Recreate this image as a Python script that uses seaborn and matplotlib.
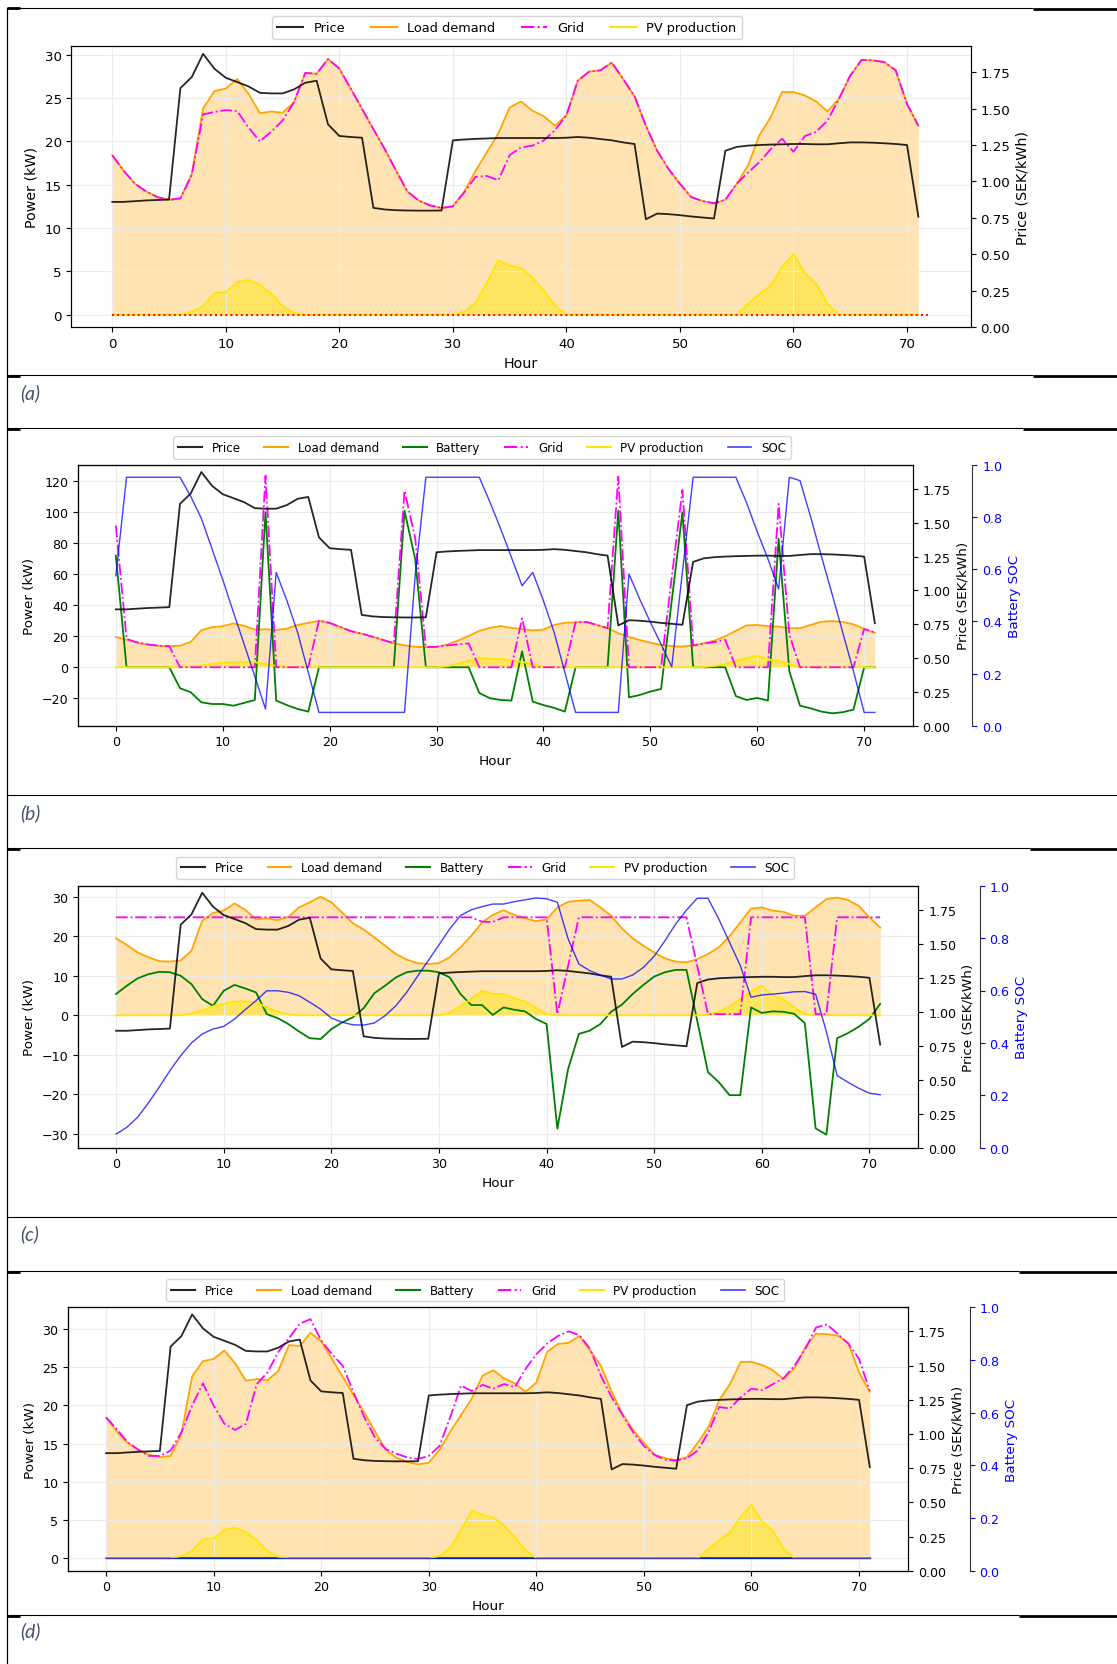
import matplotlib
matplotlib.use("Agg")
import matplotlib.pyplot as plt
from matplotlib.lines import Line2D
import seaborn as sns

# ---------------------------------------------------------------- data
hours = list(range(72))

price = [0.86, 0.86, 0.865, 0.87, 0.873, 0.876, 1.64, 1.716, 1.875, 1.773,
         1.711, 1.682, 1.652, 1.608, 1.604, 1.604, 1.631, 1.677, 1.691, 1.392,
         1.312, 1.305, 1.300, 0.819, 0.808, 0.803, 0.801, 0.800, 0.800, 0.801,
         1.282, 1.288, 1.292, 1.295, 1.298, 1.298, 1.298, 1.298, 1.298, 1.298,
         1.300, 1.305, 1.300, 1.291, 1.282, 1.268, 1.257, 0.741, 0.780, 0.776,
         0.769, 0.760, 0.753, 0.746, 1.211, 1.237, 1.246, 1.250, 1.253, 1.255,
         1.257, 1.257, 1.255, 1.255, 1.262, 1.268, 1.268, 1.266, 1.262, 1.257,
         1.250, 0.758]

# load / PV used in cases (a) and (d)
load_ad = [18.4, 16.6, 15.1, 14.2, 13.55, 13.25, 13.4, 16.25, 23.8, 25.8,
           26.1, 27.2, 25.5, 23.25, 23.45, 23.3, 24.5, 27.9, 27.8, 29.5,
           28.4, 26.1, 23.75, 21.4, 19.1, 16.6, 14.2, 13.15, 12.6, 12.3,
           12.5, 14.2, 16.6, 18.75, 20.9, 23.9, 24.6, 23.55, 22.9, 21.8,
           23.0, 27.0, 28.05, 28.2, 29.1, 27.2, 25.2, 21.8, 18.9, 16.8,
           15.1, 13.55, 13.1, 12.85, 13.25, 15.1, 17.2, 20.7, 22.8, 25.7,
           25.7, 25.3, 24.6, 23.45, 24.9, 27.6, 29.4, 29.35, 29.15, 28.2,
           24.3, 21.8]
pv_ad = [0, 0, 0, 0, 0, 0, 0, 0.3, 0.97, 2.47,
         2.6, 3.74, 4.0, 3.43, 2.39, 0.97, 0.2, 0, 0, 0,
         0, 0, 0, 0, 0, 0, 0, 0, 0, 0,
         0, 0.3, 1.35, 3.7, 6.24, 5.66, 5.35, 4.3, 2.77, 1.04,
         0, 0, 0, 0, 0, 0, 0, 0, 0, 0,
         0, 0, 0, 0, 0, 0, 1.24, 2.39, 3.35, 5.47,
         7.0, 4.8, 3.55, 1.24, 0, 0, 0, 0, 0, 0,
         0, 0]

# load / PV used in cases (b) and (c)
load_bc = [19.5, 17.8, 15.9, 14.7, 13.7, 13.6, 13.9, 16.3, 23.9, 25.9,
           26.5, 28.3, 26.7, 24.3, 24.5, 24.1, 24.9, 27.3, 28.6, 30.0,
           28.6, 26.0, 23.3, 21.7, 19.7, 17.6, 15.5, 14.1, 13.2, 13.0,
           13.2, 14.7, 17.2, 20.1, 23.5, 25.4, 26.6, 25.4, 24.6, 23.8,
           24.3, 27.3, 28.7, 29.0, 29.2, 27.3, 25.2, 22.0, 19.5, 17.6,
           15.9, 14.4, 13.6, 13.4, 14.2, 15.5, 17.2, 20.0, 23.5, 27.0,
           27.3, 26.5, 26.2, 25.2, 25.2, 27.3, 29.4, 29.8, 29.2, 27.7,
           24.8, 22.2]
pv_bc = [0, 0, 0, 0, 0, 0, 0, 0.4, 1.2, 2.3,
         2.9, 3.5, 3.5, 3.3, 2.0, 0.9, 0.2, 0, 0, 0,
         0, 0, 0, 0, 0, 0, 0, 0, 0, 0,
         0, 0.6, 2.4, 4.1, 6.2, 5.4, 5.4, 4.3, 3.5, 2.0,
         0.3, 0, 0, 0, 0, 0, 0, 0, 0, 0,
         0, 0, 0, 0, 0, 0.2, 0.9, 2.2, 4.1, 6.0,
         7.5, 5.0, 4.1, 2.0, 0.3, 0, 0, 0, 0, 0,
         0, 0]

# (a) no battery
grid_a = [18.4, 16.6, 15.1, 14.2, 13.55, 13.25, 13.4, 16.1, 23.1, 23.4,
          23.6, 23.5, 21.6, 20.0, 21.1, 22.4, 24.5, 27.9, 27.8, 29.5,
          28.4, 26.1, 23.75, 21.4, 19.1, 16.6, 14.2, 13.15, 12.6, 12.3,
          12.5, 14.1, 15.9, 16.0, 15.5, 18.4, 19.3, 19.5, 20.1, 21.3,
          23.0, 27.0, 28.05, 28.2, 29.1, 27.2, 25.2, 21.8, 18.9, 16.8,
          15.1, 13.55, 13.1, 12.85, 13.25, 15.1, 16.4, 17.6, 19.1, 20.3,
          18.8, 20.6, 21.1, 22.4, 24.9, 27.6, 29.4, 29.35, 29.15, 28.2,
          24.3, 21.8]
battery_a_hours = [0, 72]
battery_a = [0, 0]

# (b)
battery_b = [72.0, 0, 0, 0, 0, 0, -13.5, -16.1, -22.6, -23.7,
             -23.7, -24.8, -23.0, -21.1, 100.0, -21.5, -24.4, -26.9, -28.6, 0,
             0, 0, 0, 0, 0, 0, 0, 101.0, 69.9, 0,
             0, 0, 0, 0, -16.6, -20.0, -21.1, -21.5, 10.3, -22.2,
             -24.4, -26.2, -28.6, 0, 0, 0, 0, 101.0, -19.4, -17.9,
             -15.7, -14.0, 43.0, 100.0, 0, 0, 0, 0, -18.6, -21.1,
             -19.8, -21.5, 83.0, -2.5, -24.8, -26.5, -28.6, -29.7, -29.0, -27.3,
             0, 0]
grid_b = [91.4, 18.3, 16.0, 14.7, 13.9, 13.6, 0, 0, 0, 0,
          0, 0, 0, 0, 123.6, 0, 0, 0, 0, 30.1,
          28.6, 26.0, 23.3, 21.7, 19.7, 17.6, 15.5, 113.9, 83.5, 13.0,
          13.2, 14.1, 14.8, 15.4, 0, 0, 0, 0, 31.6, 0,
          0, 0, 0, 29.0, 29.2, 27.3, 25.2, 123.0, 0, 0,
          0, 0, 58.0, 114.4, 14.0, 15.3, 16.3, 17.8, 0, 0,
          0, 0, 105.4, 21.0, 0, 0, 0, 0, 0, 0,
          24.7, 22.4]
soc_b = [0.575, 0.953, 0.953, 0.953, 0.953, 0.953, 0.953, 0.88, 0.795, 0.678,
         0.56, 0.435, 0.313, 0.189, 0.064, 0.588, 0.48, 0.358, 0.205, 0.051,
         0.051, 0.051, 0.051, 0.051, 0.051, 0.051, 0.051, 0.051, 0.575, 0.953,
         0.953, 0.953, 0.953, 0.953, 0.953, 0.857, 0.755, 0.646, 0.537, 0.588,
         0.479, 0.358, 0.205, 0.051, 0.051, 0.051, 0.051, 0.051, 0.582, 0.486,
         0.397, 0.313, 0.226, 0.59, 0.953, 0.953, 0.953, 0.953, 0.953, 0.855,
         0.744, 0.64, 0.524, 0.953, 0.94, 0.80, 0.65, 0.505, 0.357, 0.209,
         0.051, 0.051]

# (c)
battery_c = [5.4, 7.5, 9.35, 10.4, 11.0, 10.9, 10.0, 7.9, 4.1, 2.4,
             6.2, 7.7, 6.8, 5.8, 0.3, -0.7, -2.2, -4.1, -5.8, -6.0,
             -3.5, -1.8, -0.5, 1.8, 5.6, 7.5, 9.6, 10.9, 11.3, 11.3,
             10.9, 9.6, 5.4, 2.6, 2.6, 0.1, 2.0, 1.4, 1.0, -0.9,
             -2.2, -28.7, -13.6, -4.7, -3.9, -2.2, 0.9, 2.7, 5.4, 7.7,
             9.8, 10.9, 11.5, 11.5, -1.4, -14.4, -16.9, -20.2, -20.2, 2.0,
             0.6, 1.0, 0.9, 0.4, -2.0, -28.6, -30.2, -5.8, -4.5, -2.9,
             -0.9, 2.9]
grid_c = [24.8, 24.8, 24.8, 24.8, 24.8, 24.8, 24.8, 24.8, 24.8, 24.8,
          24.8, 24.8, 24.8, 24.8, 24.8, 24.8, 24.8, 24.8, 24.8, 24.8,
          24.8, 24.8, 24.8, 24.8, 24.8, 24.8, 24.8, 24.8, 24.8, 24.8,
          24.8, 24.8, 24.8, 24.8, 23.7, 23.6, 24.8, 24.8, 24.8, 24.8,
          24.8, 0.3, 12.5, 24.8, 24.8, 24.8, 24.8, 24.8, 24.8, 24.8,
          24.8, 24.8, 24.8, 24.8, 12.5, 0.3, 0.3, 0.3, 0.3, 24.8,
          24.8, 24.8, 24.8, 24.8, 24.8, 0.3, 0.3, 24.8, 24.8, 24.8,
          24.8, 24.8]
soc_c = [0.052, 0.078, 0.116, 0.171, 0.231, 0.294, 0.351, 0.40, 0.434, 0.453,
         0.463, 0.491, 0.527, 0.561, 0.599, 0.599, 0.593, 0.580, 0.555, 0.529,
         0.495, 0.479, 0.469, 0.468, 0.476, 0.504, 0.542, 0.593, 0.654, 0.714,
         0.774, 0.835, 0.886, 0.908, 0.920, 0.930, 0.930, 0.939, 0.946, 0.953,
         0.950, 0.937, 0.797, 0.701, 0.676, 0.659, 0.644, 0.644, 0.659, 0.688,
         0.731, 0.790, 0.854, 0.907, 0.952, 0.952, 0.873, 0.784, 0.695, 0.574,
         0.583, 0.586, 0.590, 0.595, 0.596, 0.586, 0.443, 0.275, 0.25, 0.227,
         0.208, 0.202]

# (d) battery idle
battery_d = [0, 0, 0, 0, 0, 0, 0, 0, 0, 0,
             0, 0, 0, 0, 0, 0, 0, 0, 0, 0,
             0, 0, 0, 0, 0, 0, 0, 0, 0, 0,
             0, 0, 0, 0, 0, 0, 0, 0, 0, 0,
             0, 0, 0, 0, 0, 0, 0, 0, 0, 0,
             0, 0, 0, 0, 0, 0, 0, 0, 0, 0,
             0, 0, 0, 0, 0, 0, 0, 0, 0, 0,
             0, 0]
grid_d = [18.45, 16.9, 15.2, 14.2, 13.4, 13.4, 14.1, 16.5, 20.0, 22.9,
          20.0, 17.6, 16.8, 17.6, 22.8, 24.3, 27.0, 28.8, 30.7, 31.3,
          28.5, 26.7, 25.2, 21.7, 18.5, 15.8, 14.3, 13.7, 13.2, 13.0,
          13.4, 14.7, 18.5, 22.6, 21.9, 22.7, 22.2, 22.8, 22.4, 24.8,
          26.7, 28.1, 29.1, 29.7, 29.2, 27.4, 23.9, 21.1, 18.8, 16.5,
          14.7, 13.5, 12.9, 12.8, 13.1, 14.1, 16.5, 19.8, 19.6, 21.1,
          22.2, 22.0, 22.8, 23.6, 25.2, 27.4, 30.2, 30.6, 29.4, 28.1,
          26.1, 21.9]
soc_d = [0.05, 0.05, 0.05, 0.05, 0.05, 0.05, 0.05, 0.05, 0.05, 0.05,
         0.05, 0.05, 0.05, 0.05, 0.05, 0.05, 0.05, 0.05, 0.05, 0.05,
         0.05, 0.05, 0.05, 0.05, 0.05, 0.05, 0.05, 0.05, 0.05, 0.05,
         0.05, 0.05, 0.05, 0.05, 0.05, 0.05, 0.05, 0.05, 0.05, 0.05,
         0.05, 0.05, 0.05, 0.05, 0.05, 0.05, 0.05, 0.05, 0.05, 0.05,
         0.05, 0.05, 0.05, 0.05, 0.05, 0.05, 0.05, 0.05, 0.05, 0.05,
         0.05, 0.05, 0.05, 0.05, 0.05, 0.05, 0.05, 0.05, 0.05, 0.05,
         0.05, 0.05]

price_ticks = [0.0, 0.25, 0.5, 0.75, 1.0, 1.25, 1.5, 1.75]
soc_ticks = [0.0, 0.2, 0.4, 0.6, 0.8, 1.0]
hour_ticks = [0, 10, 20, 30, 40, 50, 60, 70]

# ---------------------------------------------------------------- style
C_PRICE = "black"
C_LOAD = "orange"
C_BATT = "green"
C_GRID = "magenta"
C_PV = "#ffe600"
C_SOC = "blue"
LW = 1.3

W, H = 1117, 1665
fig = plt.figure(figsize=(W / 100, H / 100), dpi=100)
fig.patch.set_facecolor("white")


def rect(l, t, r, b):
    return [l / W, 1 - b / H, (r - l) / W, (b - t) / H]


def hline(x0, x1, y, lw):
    fig.add_artist(Line2D([x0 / W, x1 / W], [1 - y / H, 1 - y / H],
                          transform=fig.transFigure, color="black", lw=lw,
                          solid_capstyle="butt"))


def handles_for(names):
    styles = {
        "Price": dict(color=C_PRICE, lw=1.5, alpha=0.85),
        "Load demand": dict(color=C_LOAD, lw=1.5),
        "Battery": dict(color=C_BATT, lw=1.5),
        "Grid": dict(color=C_GRID, lw=1.5, ls="-."),
        "PV production": dict(color=C_PV, lw=1.5),
        "SOC": dict(color=C_SOC, lw=1.2, alpha=0.75),
    }
    return [Line2D([], [], **styles[n]) for n in names]


def draw_panel(box, load, pv, grid, ylim, yticks, xlim, legend_c, fs,
               battery=None, soc=None, soc_off=None, idle_line=False):
    tick_fs, label_fs, leg_fs = fs
    ax = fig.add_axes(rect(*box))
    ax.fill_between(hours, load, 0, color=C_LOAD, alpha=0.3, lw=0)
    sns.lineplot(x=hours, y=load, ax=ax, color=C_LOAD, lw=LW)
    if battery is not None:
        sns.lineplot(x=hours, y=battery, ax=ax, color=C_BATT, lw=LW)
    ax.fill_between(hours, pv, 0, color=C_PV, alpha=0.45, lw=0)
    sns.lineplot(x=hours, y=pv, ax=ax, color=C_PV, lw=LW)
    if idle_line:
        sns.lineplot(x=battery_a_hours, y=battery_a, ax=ax, color="red",
                     ls=":", lw=1.4)
    sns.lineplot(x=hours, y=grid, ax=ax, color=C_GRID, ls="-.", lw=LW)

    ax.set_xlim(*xlim)
    ax.set_ylim(*ylim)
    ax.set_xticks(hour_ticks)
    ax.set_yticks(yticks)
    ax.grid(True, color="0.92", lw=0.8)
    ax.set_xlabel("Hour", fontsize=label_fs)
    ax.set_ylabel("Power (kW)", fontsize=label_fs)
    ax.tick_params(labelsize=tick_fs)

    ax2 = ax.twinx()
    sns.lineplot(x=hours, y=price, ax=ax2, color=C_PRICE, lw=LW, alpha=0.85)
    ax2.set_ylim(0, 1.927)
    ax2.set_yticks(price_ticks)
    ax2.set_yticklabels([f"{t:.2f}" for t in price_ticks])
    ax2.set_ylabel("Price (SEK/kWh)", fontsize=label_fs)
    ax2.tick_params(labelsize=tick_fs)
    ax2.set_xlim(*xlim)

    names = ["Price", "Load demand", "Grid", "PV production"]
    if soc is not None:
        ax3 = ax.twinx()
        ax3.spines["right"].set_position(("outward", soc_off * 0.72))
        sns.lineplot(x=hours, y=soc, ax=ax3, color=C_SOC, lw=1.0, alpha=0.75)
        ax3.set_ylim(0, 1)
        ax3.set_yticks(soc_ticks)
        ax3.set_yticklabels([f"{t:.1f}" for t in soc_ticks])
        ax3.set_ylabel("Battery SOC", fontsize=label_fs, color="blue")
        ax3.tick_params(axis="y", colors="blue", labelsize=tick_fs)
        ax3.spines["right"].set_color("#333333")
        ax3.set_xlim(*xlim)
        names = ["Price", "Load demand", "Battery", "Grid", "PV production", "SOC"]

    fig.legend(handles_for(names), names, loc="center",
               bbox_to_anchor=(legend_c[0] / W, 1 - legend_c[1] / H),
               ncol=len(names), fontsize=leg_fs, frameon=True,
               borderaxespad=0)
    return ax


FS_A = (9.6, 10.3, 9.3)
FS_BCD = (9.1, 9.7, 8.6)

# (a)
draw_panel((71.4, 47.3, 970.6, 328.3), load_ad, pv_ad, grid_a,
           (-1.475, 30.975), [0, 5, 10, 15, 20, 25, 30], (-3.6, 75.6),
           (507, 28.7), FS_A, idle_line=True)
# (b)
draw_panel((77.9, 466, 912.8, 726.7), load_bc, pv_bc, grid_b,
           (-37.7, 130.5), [-20, 0, 20, 40, 60, 80, 100, 120], (-3.55, 74.55),
           (482, 448.3), FS_BCD, battery=battery_b, soc=soc_b, soc_off=59.7)
# (c)
draw_panel((77.9, 886.7, 918.4, 1148.7), load_bc, pv_bc, grid_c,
           (-33.5, 32.8), [-30, -20, -10, 0, 10, 20, 30], (-3.55, 74.55),
           (485.3, 869), FS_BCD, battery=battery_c, soc=soc_c, soc_off=61.4)
# (d)
draw_panel((67.9, 1308.3, 908, 1571.7), load_ad, pv_ad, grid_d,
           (-1.62, 32.85), [0, 5, 10, 15, 20, 25, 30], (-3.55, 74.55),
           (475.1, 1291.2), FS_BCD, battery=battery_d, soc=soc_d, soc_off=61.5)

# ---------------------------------------------------------------- table frame
fig.add_artist(Line2D([7 / W, 7 / W], [1 - 8.5 / H, 0],
                      transform=fig.transFigure, color="black", lw=0.9))
for y_top, y_sep, r_top, r_sep, thick_sep in [
        (8.5, 376, 1033, 1033, True),
        (429.3, 796, 1023, 1117, False),
        (849.3, 1218.3, 1029.5, 1117, False),
        (1271.7, 1616, 1018.5, 1018.5, True)]:
    hline(7, r_top, y_top, 0.8)
    hline(7, 20, y_top + 0.8, 2.0)
    hline(r_top, 1117, y_top + 1.0, 2.0)
    hline(7, r_sep, y_sep, 0.8)
    if thick_sep:
        hline(7, 20, y_sep + 0.5, 2.0)
        hline(r_sep, 1117, y_sep + 0.5, 2.0)

for label, yc in [("(a)", 393.5), ("(b)", 813), ("(c)", 1234), ("(d)", 1631.7)]:
    fig.text(20 / W, 1 - yc / H, label, ha="left", va="center", fontsize=14,
             style="italic", color="#44546a", family="Lato")

fig.savefig("out.png", dpi=100, facecolor="white")
